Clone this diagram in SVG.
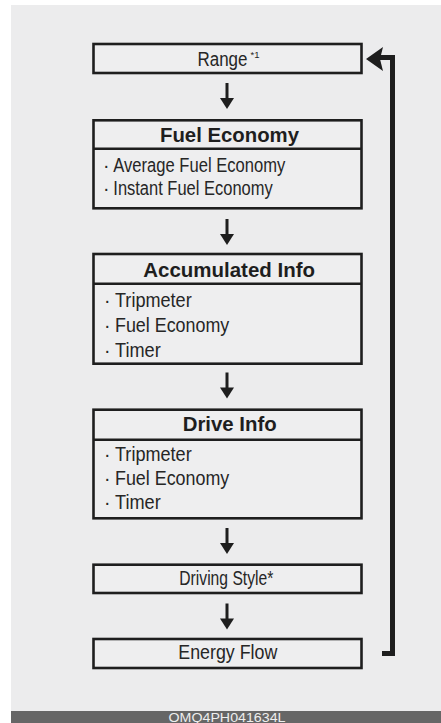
<svg xmlns="http://www.w3.org/2000/svg" width="441" height="723" viewBox="0 0 441 723">
<style>
.box{fill:#eeeeef;stroke:#1e1e1e;stroke-width:2.6}
.div{stroke:#1e1e1e;stroke-width:2.6}
.t{font-family:"Liberation Sans",Arial,sans-serif;font-size:19.5px;fill:#262626}
.h{font-family:"Liberation Sans",Arial,sans-serif;font-size:21px;font-weight:bold;fill:#1e1e1e}
.b{font-family:"Liberation Sans",Arial,sans-serif;font-size:19.5px;fill:#262626}
.ar{fill:#1e1e1e}
</style>
<defs>
<g id="down"><rect x="-1.5" y="0" width="3" height="17" class="ar"/><polygon points="-7,15 7,15 0,26" class="ar"/></g>
</defs>
<rect x="0" y="0" width="441" height="723" fill="#ffffff"/>
<rect x="11" y="5" width="430" height="706" fill="#ececed"/>
<rect x="11" y="711" width="430" height="12" fill="#666666"/>
<text x="227" y="721.5" text-anchor="middle" font-family="'Liberation Sans',Arial,sans-serif" font-size="12" fill="#eeeeee" textLength="117" lengthAdjust="spacingAndGlyphs">OMQ4PH041634L</text>

<g id="range">
<rect class="box" x="93.5" y="44" width="268" height="29"/>
<text class="t" x="197.5" y="66"><tspan textLength="50" lengthAdjust="spacingAndGlyphs">Range</tspan><tspan font-size="9" dy="-8" dx="3" textLength="9" lengthAdjust="spacingAndGlyphs">*1</tspan></text>
</g>

<g id="fuel-economy">
<rect class="box" x="93.5" y="120.3" width="268" height="88"/>
<line class="div" x1="93.5" y1="148.7" x2="361.5" y2="148.7"/>
<text class="h" x="160" y="141.7" textLength="139" lengthAdjust="spacingAndGlyphs">Fuel Economy</text>
<text class="b" x="103" y="171.7">·</text>
<text class="t" x="113.3" y="171.7" textLength="172" lengthAdjust="spacingAndGlyphs">Average Fuel Economy</text>
<text class="b" x="103" y="195">·</text>
<text class="t" x="113.3" y="195" textLength="159.4" lengthAdjust="spacingAndGlyphs">Instant Fuel Economy</text>
</g>

<g id="accumulated-info">
<rect class="box" x="93.5" y="254" width="268" height="109.7"/>
<line class="div" x1="93.5" y1="283.7" x2="361.5" y2="283.7"/>
<text class="h" x="143.3" y="276.7" textLength="171.7" lengthAdjust="spacingAndGlyphs">Accumulated Info</text>
<text class="b" x="104" y="307.3">·</text>
<text class="t" x="115" y="307.3" textLength="76.7" lengthAdjust="spacingAndGlyphs">Tripmeter</text>
<text class="b" x="104" y="331.7">·</text>
<text class="t" x="115" y="331.7" textLength="114.3" lengthAdjust="spacingAndGlyphs">Fuel Economy</text>
<text class="b" x="104" y="356.7">·</text>
<text class="t" x="115" y="356.7" textLength="45.7" lengthAdjust="spacingAndGlyphs">Timer</text>
</g>

<g id="drive-info">
<rect class="box" x="93.5" y="409.7" width="268" height="108.6"/>
<line class="div" x1="93.5" y1="439.7" x2="361.5" y2="439.7"/>
<text class="h" x="182.7" y="430.7" textLength="94" lengthAdjust="spacingAndGlyphs">Drive Info</text>
<text class="b" x="104" y="460.7">·</text>
<text class="t" x="115" y="460.7" textLength="76.7" lengthAdjust="spacingAndGlyphs">Tripmeter</text>
<text class="b" x="104" y="485">·</text>
<text class="t" x="115" y="485" textLength="114.3" lengthAdjust="spacingAndGlyphs">Fuel Economy</text>
<text class="b" x="104" y="509.3">·</text>
<text class="t" x="115" y="509.3" textLength="45.7" lengthAdjust="spacingAndGlyphs">Timer</text>
</g>

<g id="driving-style">
<rect class="box" x="93.5" y="564.7" width="268" height="28.3"/>
<text class="t" x="179.3" y="585" textLength="94" lengthAdjust="spacingAndGlyphs">Driving Style*</text>
</g>

<g id="energy-flow">
<rect class="box" x="93.5" y="639" width="268" height="29"/>
<text class="t" x="178.3" y="659.3" textLength="99" lengthAdjust="spacingAndGlyphs">Energy Flow</text>
</g>

<g id="connectors">
<use href="#down" x="227" y="83"/>
<use href="#down" x="227" y="219"/>
<use href="#down" x="227" y="372.5"/>
<use href="#down" x="227" y="528"/>
<use href="#down" x="227" y="603.5"/>
<polyline points="382,653.5 392.5,653.5 392.5,57.5 380,57.5" fill="none" stroke="#1e1e1e" stroke-width="5"/>
<polygon points="366,59 383,47 380,59 383,71" class="ar"/>
</g>
</svg>
